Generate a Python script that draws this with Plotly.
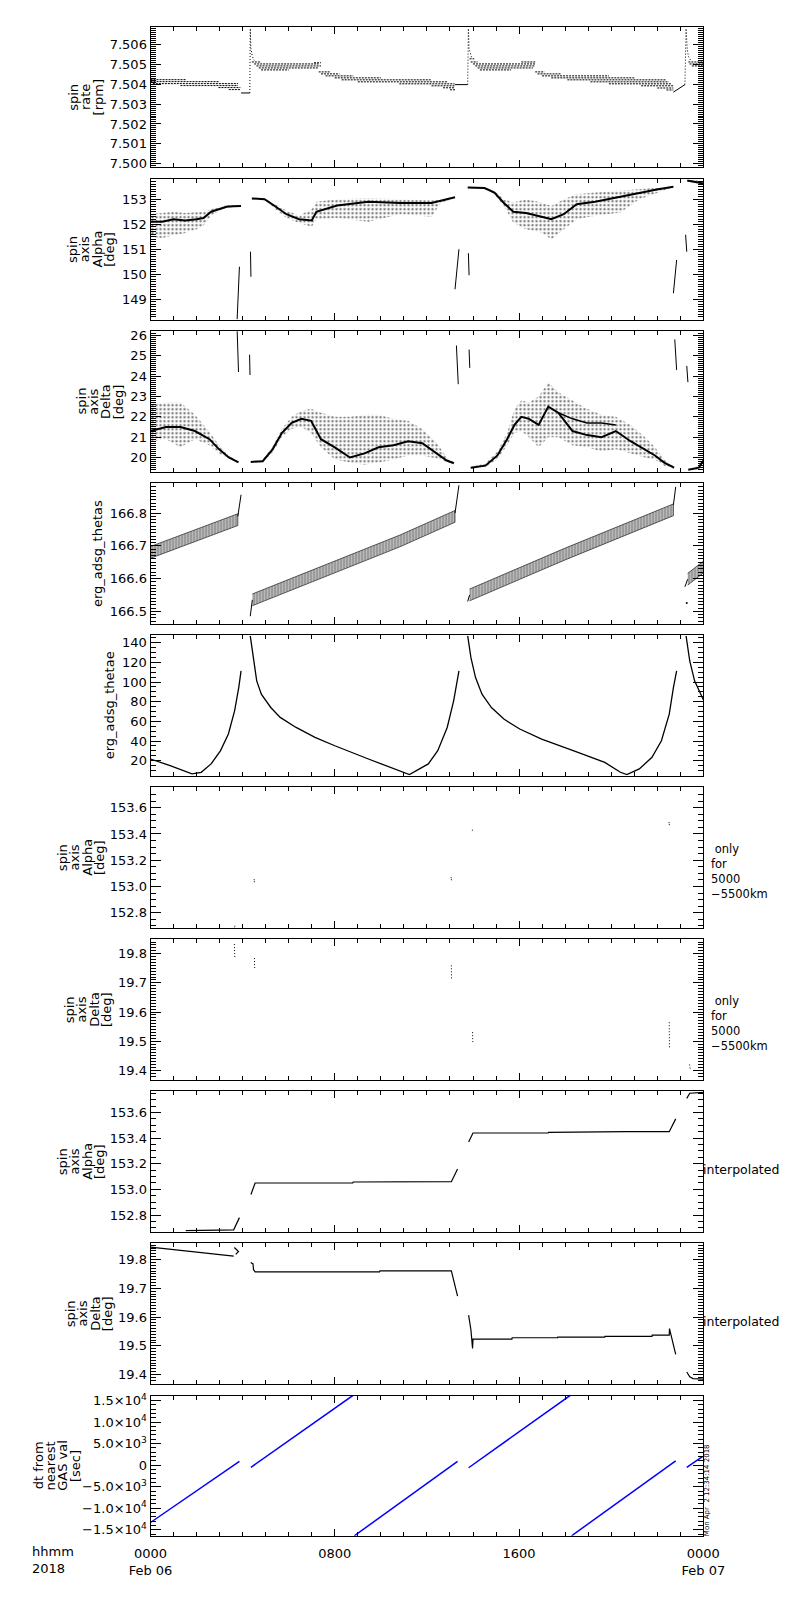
import plotly.graph_objects as go

W, H = 800, 1600
X0, X1 = 136.0, 721.0
TOP0, PITCH, PH = 23.3, 152.8, 141.0
FONT = "DejaVu Sans"

# ---------------- data (hours after 2018-02-06 00:00) ----------------
# Panel 1: spin rate [rpm] -- quantised levels (start h, end h, value)
p1_t0 = [0.0, 0.0, 0.1, 1.3, 2.95, 3.4,
         4.4, 4.5, 4.6, 4.7, 4.8, 7.1, 7.3, 7.4, 7.6, 8.0, 8.3, 9.0, 10.8, 12.2, 12.7, 13.0,
         13.85, 13.9, 14.0, 14.1, 14.2, 14.3, 16.1, 16.7, 16.8, 17.0, 17.4, 18.1, 19.1, 19.9, 21.3, 22.0, 22.4,
         23.35, 23.4, 23.5]
p1_t1 = [1.53, 3.0, 3.8, 3.8, 3.9, 3.9,
         4.8, 7.3, 7.4, 7.3, 6.0, 7.4, 7.8, 8.2, 8.8, 10.0, 12.2, 12.9, 13.2, 13.2, 13.22, 13.22,
         14.05, 14.2, 16.7, 16.7, 16.6, 15.65, 16.7, 17.1, 17.8, 19.9, 21.0, 22.4, 22.5, 22.6, 22.7, 22.7, 22.7,
         24.0, 24.0, 24.0]
p1_v = [7.50423, 7.50413, 7.50403, 7.50393, 7.50383, 7.50373,
        7.50512, 7.50502, 7.50492, 7.50482, 7.50472, 7.50508, 7.50462, 7.50452, 7.50442, 7.50432, 7.50422,
        7.50412, 7.50402, 7.50392, 7.50382, 7.50372,
        7.50528, 7.50512, 7.50502, 7.50492, 7.50482, 7.50472, 7.50512, 7.50462, 7.50452, 7.50442, 7.50432,
        7.50422, 7.50412, 7.50402, 7.50392, 7.50381, 7.50371,
        7.50512, 7.50502, 7.50492]
p1_flat_t = [3.93, 4.31, None, 13.22, 13.77, None, 22.7, 23.2]
p1_flat_v = [7.50356, 7.50356, None, 7.50398, 7.50398, None, 7.5036, 7.50398]
p1_spike_t = [4.31, 4.33, 4.33, 4.36, 4.42, 4.5, None,
              13.77, 13.79, 13.8, 13.83, 13.9, 13.95, None,
              23.2, 23.23, 23.25, 23.3, 23.35, 23.45]
p1_spike_v = [7.50356, 7.5052, 7.5068, 7.5058, 7.5054, 7.5052, None,
              7.50398, 7.5053, 7.5068, 7.5058, 7.5054, 7.50528, None,
              7.50398, 7.5052, 7.5068, 7.5058, 7.5054, 7.5052]

# Panel 2: spin axis Alpha [deg] -- scatter cloud envelopes per orbit
p2_t = [[0.0, 0.5, 1.0, 1.5, 2.0, 2.3, 2.63, 3.0, 3.3, 3.6, 3.93],
        [4.4, 4.95, 5.36, 5.9, 6.45, 7.0, 7.2, 8.1, 9.46, 10.83, 12.2, 12.6, 13.22],
        [13.77, 14.5, 14.93, 15.34, 15.75, 16.3, 16.98, 17.4, 17.94, 18.5, 19.3, 20.4, 21.22, 22.04, 22.7],
        [23.3, 23.6, 24.0]]
p2_core = [[152.1, 152.1, 152.2, 152.15, 152.2, 152.25, 152.5, 152.62, 152.7, 152.72, 152.73],
           [153.03, 153.0, 152.75, 152.4, 152.2, 152.15, 152.5, 152.75, 152.9, 152.85, 152.85, 152.95, 153.08],
           [153.47, 153.45, 153.27, 152.85, 152.5, 152.45, 152.3, 152.2, 152.4, 152.8, 152.9, 153.1, 153.27, 153.4, 153.5],
           [153.75, 153.7, 153.63]]
p2_lo = [[151.5, 151.45, 151.55, 151.65, 151.8, 151.95, 152.34, 152.55, 152.66, 152.7, 152.71],
         [153.0, 152.97, 152.65, 152.25, 152.05, 151.9, 152.2, 152.25, 152.1, 152.4, 152.3, 152.85, 153.05],
         [153.45, 153.43, 153.2, 152.73, 152.07, 151.8, 151.67, 151.4, 151.8, 152.2, 152.34, 152.47, 153.0, 153.27, 153.48],
         [153.72, 153.66, 153.58]]
p2_hi = [[152.4, 152.45, 152.5, 152.45, 152.5, 152.5, 152.6, 152.7, 152.76, 152.75, 152.75],
         [153.06, 153.04, 152.82, 152.55, 152.35, 152.6, 152.9, 153.0, 153.05, 153.0, 152.95, 153.0, 153.1],
         [153.49, 153.48, 153.33, 153.0, 152.87, 153.0, 152.87, 152.73, 153.0, 153.2, 153.27, 153.33, 153.4, 153.47, 153.52],
         [153.8, 153.78, 153.7]]
p2_seg_t0 = [3.76, 4.34, 13.22, 13.80, 22.70, 23.23]
p2_seg_t1 = [3.86, 4.36, 13.39, 13.83, 22.84, 23.28]
p2_seg_v0 = [148.2, 150.9, 149.4, 150.84, 149.24, 151.58]
p2_seg_v1 = [150.3, 149.9, 151.0, 149.96, 150.57, 150.9]

# Panel 3: spin axis Delta [deg]
p3_t = [[0.0, 0.67, 1.3, 1.93, 2.56, 2.98, 3.4, 3.82],
        [4.35, 4.87, 5.3, 5.7, 6.13, 6.55, 6.97, 7.4, 8.0, 8.66, 9.29, 9.9, 10.55, 11.18, 11.8, 12.44, 12.86, 13.17],
        [13.9, 14.54, 15.06, 15.48, 15.8, 16.1, 16.43, 16.85, 17.27, 17.7, 18.32, 18.95, 19.58, 20.2, 20.84,
         21.47, 21.9, 22.3, 22.73],
        [23.35, 23.8, 24.0]]
p3_core = [[21.3, 21.5, 21.5, 21.3, 20.9, 20.4, 20.0, 19.76],
           [19.78, 19.82, 20.4, 21.2, 21.7, 21.9, 21.8, 20.9, 20.5, 20.0, 20.2, 20.5, 20.6, 20.8, 20.7, 20.2, 19.85, 19.72],
           [19.5, 19.6, 20.1, 20.9, 21.6, 22.0, 21.9, 21.6, 22.5, 22.2, 21.3, 21.1, 21.0, 21.3, 20.8, 20.4, 20.1, 19.75, 19.5],
           [19.4, 19.5, 19.85]]
p3_lo = [[20.8, 20.9, 20.5, 20.9, 20.6, 20.2, 19.95, 19.72],
         [19.74, 19.78, 20.25, 21.0, 21.4, 21.5, 21.2, 20.5, 19.9, 19.75, 19.65, 19.75, 19.9, 20.1, 20.1, 19.95, 19.78, 19.7],
         [19.45, 19.55, 19.9, 20.6, 21.2, 21.3, 21.0, 20.5, 21.0, 21.0, 20.6, 20.5, 20.3, 20.4, 20.2, 20.0, 19.9, 19.6, 19.45],
         [19.35, 19.42, 19.6]]
p3_hi = [[22.6, 22.7, 22.7, 22.1, 21.25, 20.6, 20.1, 19.8],
         [19.82, 19.88, 20.55, 21.4, 22.0, 22.3, 22.4, 22.2, 22.0, 22.0, 22.1, 22.1, 21.9, 21.8, 21.4, 20.7, 20.0, 19.75],
         [19.55, 19.7, 20.3, 21.2, 22.4, 22.8, 22.7, 23.0, 23.7, 23.2, 22.8, 22.4, 22.1, 22.0, 21.6, 21.0, 20.5, 19.9, 19.55],
         [19.45, 19.6, 20.0]]
p3_core2_t = [17.7, 18.32, 18.95, 19.58, 20.2]
p3_core2_v = [22.2, 21.9, 21.7, 21.7, 21.6]
p3_seg_t0 = [3.76, 4.30, 13.28, 13.83, 22.76, 23.28]
p3_seg_t1 = [3.82, 4.32, 13.36, 13.86, 22.84, 23.33]
p3_seg_v0 = [26.3, 25.05, 25.5, 25.3, 25.8, 24.5]
p3_seg_v1 = [24.2, 24.05, 23.6, 24.4, 24.3, 23.7]

# Panel 4: erg_adsg_thetas -- band centre per orbit
p4_t = [[0.0, 3.79], [4.42, 10.83, 13.22], [13.85, 18.0, 22.7], [23.32, 24.0]]
p4_c = [[166.68, 166.78], [166.535, 166.715, 166.79], [166.55, 166.675, 166.81], [166.598, 166.635]]
p4_halfwidth = 0.018
p4_tail_t = [3.79, 3.93, None, 13.22, 13.39, None, 22.7, 22.8, None,
             4.33, 4.42, None, 13.77, 13.85, None, 23.2, 23.32]
p4_tail_v = [166.79, 166.856, None, 166.80, 166.885, None, 166.825, 166.88, None,
             166.485, 166.535, None, 166.53, 166.55, None, 166.575, 166.598]
p4_dot_t = [23.28]
p4_dot_v = [166.525]

# Panel 5: erg_adsg_thetae
p5_t = [0.0, 0.85, 1.8, 2.2, 2.63, 3.04, 3.38, 3.65, 3.83, 3.93, None,
        4.33, 4.47, 4.61, 4.81, 5.22, 5.63, 6.32, 7.14, 8.0, 9.46, 10.83, 11.24, 12.06, 12.47, 12.88, 13.16, 13.39, None,
        13.77, 13.91, 14.11, 14.39, 14.8, 15.34, 16.03, 16.98, 18.35, 19.72, 20.4, 20.68, 21.22, 21.77, 22.18, 22.52,
        22.7, 22.84, None,
        23.25, 23.41, 23.62, 23.96, 24.0]
p5_v = [21.7, 15.0, 6.5, 8.2, 16.7, 30.2, 47.1, 70.7, 94.4, 111.3, None,
        147.0, 121.4, 101.2, 87.7, 74.1, 64.0, 53.8, 43.7, 35.2, 21.7, 9.9, 5.8, 16.7, 30.2, 53.8, 80.9, 111.3, None,
        147.0, 124.8, 104.5, 87.7, 74.0, 62.3, 52.2, 42.0, 30.2, 18.3, 8.2, 5.8, 11.6, 23.4, 40.3, 67.4, 94.4, 111.3, None,
        147.0, 121.4, 101.2, 84.2, 82.0]

# Panel 6: Alpha only for 5000-5500 km (short marks)
p6_t0 = [3.65, 4.50, 13.05, 13.97, 22.51]
p6_t1 = [3.67, 4.51, 13.07, 13.99, 22.53]
p6_v0 = [152.688, 153.055, 153.07, 153.425, 153.49]
p6_v1 = [152.705, 153.03, 153.045, 153.44, 153.46]

# Panel 7: Delta only for 5000-5500 km
p7_t0 = [3.64, 4.51, 13.06, 13.98, 22.52, 23.40]
p7_t1 = [3.66, 4.52, 13.07, 13.99, 22.53, 23.44]
p7_v0 = [19.833, 19.785, 19.76, 19.531, 19.565, 19.42]
p7_v1 = [19.783, 19.751, 19.714, 19.497, 19.473, 19.40]

# Panel 8: Alpha interpolated
p8_t = [1.53, 3.61, 3.86, None,
        4.36, 4.54, 8.78, 8.80, 13.06, 13.33, None,
        13.81, 14.0, 17.26, 17.28, 20.68, 22.52, 22.8, None,
        23.28, 23.41, 24.0]
p8_v = [152.678, 152.685, 152.78, None,
        152.96, 153.05, 153.05, 153.058, 153.06, 153.16, None,
        153.37, 153.44, 153.44, 153.445, 153.45, 153.45, 153.55, None,
        153.71, 153.75, 153.757]

# Panel 9: Delta interpolated
p9_t = [0.0, 3.61, None, 3.64, 3.82, 3.70, None,
        4.35, 4.45, 4.47, 4.54, 9.94, 9.96, 13.06, 13.33, None,
        13.81, 13.91, 13.98, 14.0, 15.69, 15.70, 17.67, 17.68, 19.72, 19.73, 21.77, 21.78, 22.52, 22.53, 22.8, None,
        23.28, 23.41, 23.55, 24.0]
p9_v = [19.843, 19.812, None, 19.842, 19.828, 19.818, None,
        19.79, 19.785, 19.765, 19.757, 19.757, 19.761, 19.761, 19.673, None,
        19.607, 19.555, 19.491, 19.523, 19.523, 19.528, 19.528, 19.53, 19.53, 19.533, 19.533, 19.537, 19.537,
        19.56, 19.47, None,
        19.409, 19.392, 19.386, 19.384]

# Panel 10: dt from nearest GAS value [sec]
p10_t0 = [0.0, 4.36, 8.85, 13.81, 18.28, 23.28]
p10_t1 = [3.86, 8.78, 13.33, 18.21, 22.8, 23.96]
p10_v0 = [-13300, -500, -16380, -600, -16380, -500]
p10_v1 = [900, 16150, 900, 16150, 1000, 2000]

# axis settings
y_ranges = [[7.49981, 7.50687], [148.19, 153.8], [19.31, 26.2], [166.4625, 166.891], [4.8, 147.5],
            [152.686, 153.755], [19.368, 19.849], [152.67, 153.764], [19.368, 19.856], [-16385, 16154]]
y_dtick = [0.001, 1, 1, 0.1, 20, 0.2, 0.1, 0.2, 0.1, 5000]
y_tick0 = [7.5, 0, 0, 166.5, 0, 152.8, 19.4, 152.8, 19.4, 0]
y_minor = [0.0001, 0.1, 0.1, 0.01, 5, 0.05, 0.01, 0.05, 0.01, 1000]
y_fmt = [".3f", "d", "d", ".1f", "d", ".1f", ".1f", ".1f", ".1f", None]
p10_tickvals = [-15000, -10000, -5000, 0, 5000, 10000, 15000]
p10_ticktext = ["\u22121.5\u00d710<sup>4</sup>", "\u22121.0\u00d710<sup>4</sup>", "\u22125.0\u00d710<sup>3</sup>", "0",
                "5.0\u00d710<sup>3</sup>", "1.0\u00d710<sup>4</sup>", "1.5\u00d710<sup>4</sup>"]
x_tickvals = [0, 8, 16, 24]
x_ticktext = ["0000<br>Feb 06", "0800", "1600", "0000<br>Feb 07"]

titles = [["spin", "rate", "[rpm]"],
          ["spin", "axis", "Alpha", "[deg]"],
          ["spin", "axis", "Delta", "[deg]"],
          ["erg_adsg_thetas"],
          ["erg_adsg_thetae"],
          ["spin", "axis", "Alpha", "[deg]"],
          ["spin", "axis", "Delta", "[deg]"],
          ["spin", "axis", "Alpha", "[deg]"],
          ["spin", "axis", "Delta", "[deg]"],
          ["dt from", "nearest", "GAS val", "[sec]"]]
title_cx = [67.5, 73, 82, 80, 93, 62.5, 70, 62.5, 71, 37]
right_only = "\u00a0only<br>for<br>5000<br>\u22125500km"
right_interp = "interpolated"
stamp = "Mon Apr  2 12:34:14 2018"

# ---------------- figure ----------------
fig = go.Figure()


def refs(i):
    return ("x" if i == 0 else f"x{i+1}"), ("y" if i == 0 else f"y{i+1}")


def add(i, **kw):
    xr, yr = refs(i)
    kw.setdefault("mode", "lines")
    kw.setdefault("showlegend", False)
    kw.setdefault("hoverinfo", "skip")
    fig.add_trace(go.Scatter(xaxis=xr, yaxis=yr, **kw))


def seg_xy(t0, t1, v0, v1):
    xs, ys = [], []
    for a, b, c, d in zip(t0, t1, v0, v1):
        xs += [a, b, None]
        ys += [c, d, None]
    return xs, ys


BLK = "black"
# panel 1
xs, ys = seg_xy(p1_t0, p1_t1, p1_v, p1_v)
add(0, x=xs, y=ys, line=dict(color=BLK, width=1, dash="2px,1px"))
add(0, x=p1_flat_t, y=p1_flat_v, line=dict(color=BLK, width=1))
add(0, x=p1_spike_t, y=p1_spike_v, line=dict(color=BLK, width=1, dash="1px,2px"))


def cloud(i, t, lo, hi, core, size=4, sol=0.3, corew=2.0):
    for tt, l, h, c in zip(t, lo, hi, core):
        add(i, x=tt + tt[::-1], y=h + l[::-1], fill="toself", fillcolor="white",
            fillpattern=dict(shape=".", size=size, solidity=sol, fgcolor=BLK, bgcolor="rgba(0,0,0,0)"),
            line=dict(width=0))
        add(i, x=tt, y=c, line=dict(color=BLK, width=corew))


cloud(1, p2_t, p2_lo, p2_hi, p2_core)
xs, ys = seg_xy(p2_seg_t0, p2_seg_t1, p2_seg_v0, p2_seg_v1)
add(1, x=xs, y=ys, line=dict(color=BLK, width=1))

cloud(2, p3_t, p3_lo, p3_hi, p3_core)
add(2, x=p3_core2_t, y=p3_core2_v, line=dict(color=BLK, width=1.5))
xs, ys = seg_xy(p3_seg_t0, p3_seg_t1, p3_seg_v0, p3_seg_v1)
add(2, x=xs, y=ys, line=dict(color=BLK, width=1))

# panel 4 hatched bands
for tt, cc in zip(p4_t, p4_c):
    hi = [c + p4_halfwidth for c in cc]
    lo = [c - p4_halfwidth for c in cc]
    add(3, x=tt + tt[::-1], y=hi + lo[::-1], fill="toself", fillcolor="white",
        fillpattern=dict(shape="|", size=3, solidity=0.7, fgcolor=BLK, bgcolor="rgba(0,0,0,0)"),
        line=dict(color=BLK, width=0.6))
add(3, x=p4_tail_t, y=p4_tail_v, line=dict(color=BLK, width=1))
add(3, x=p4_dot_t, y=p4_dot_v, mode="markers", marker=dict(color=BLK, size=2))

# panel 5
add(4, x=p5_t, y=p5_v, line=dict(color=BLK, width=1.3))

# panels 6, 7
xs, ys = seg_xy(p6_t0, p6_t1, p6_v0, p6_v1)
add(5, x=xs, y=ys, line=dict(color=BLK, width=1, dash="1px,1px"))
xs, ys = seg_xy(p7_t0, p7_t1, p7_v0, p7_v1)
add(6, x=xs, y=ys, line=dict(color=BLK, width=1, dash="1px,2px"))

# panels 8, 9
add(7, x=p8_t, y=p8_v, line=dict(color=BLK, width=1.2))
add(8, x=p9_t, y=p9_v, line=dict(color=BLK, width=1.2))

# panel 10
xs, ys = seg_xy(p10_t0, p10_t1, p10_v0, p10_v1)
add(9, x=xs, y=ys, line=dict(color="#0000ff", width=1.5))

# ---------------- layout ----------------
layout = dict(width=W, height=H, margin=dict(l=0, r=0, t=0, b=0),
              paper_bgcolor="white", plot_bgcolor="white",
              font=dict(family=FONT, size=13, color=BLK), showlegend=False)

anns = []


def ann(text, xpx, ypx, angle=0, xanchor="center", yanchor="middle", size=13):
    anns.append(dict(text=text, x=xpx / W, y=1 - ypx / H, xref="paper", yref="paper",
                     xanchor=xanchor, yanchor=yanchor, showarrow=False, textangle=angle,
                     font=dict(family=FONT, size=size, color=BLK), align="left"))


for i in range(10):
    top = TOP0 + PITCH * i
    bot = top + PH
    xk = "xaxis" if i == 0 else f"xaxis{i+1}"
    yk = "yaxis" if i == 0 else f"yaxis{i+1}"
    xr, yr = refs(i)
    last = i == 9
    layout[xk] = dict(domain=[X0 / W, X1 / W], anchor=yr, range=[0, 24],
                      tickmode="array", tickvals=x_tickvals, ticktext=x_ticktext,
                      showticklabels=last, ticks="inside", ticklen=7, tickcolor=BLK,
                      minor=dict(dtick=1, tick0=0, ticks="inside", ticklen=4, tickcolor=BLK),
                      showline=True, linecolor=BLK, linewidth=1, mirror="ticks",
                      showgrid=False, zeroline=False, tickfont=dict(size=13),
                      ticklabelstandoff=6)
    yd = dict(domain=[1 - bot / H, 1 - top / H], anchor=xr, range=y_ranges[i],
              ticks="inside", ticklen=10, tickcolor=BLK,
              minor=dict(dtick=y_minor[i], tick0=y_tick0[i], ticks="inside", ticklen=5.5, tickcolor=BLK),
              showline=True, linecolor=BLK, linewidth=1, mirror="ticks",
              showgrid=False, zeroline=False, tickfont=dict(size=13))
    if i == 9:
        yd.update(tickmode="array", tickvals=p10_tickvals, ticktext=p10_ticktext)
    else:
        yd.update(tickmode="linear", dtick=y_dtick[i], tick0=y_tick0[i], tickformat=y_fmt[i])
    layout[yk] = yd

    # y titles (rotated), one annotation per line
    lines = titles[i]
    n = len(lines)
    cy = (top + bot) / 2
    for k, s in enumerate(lines):
        ann(s, title_cx[i] + (k - (n - 1) / 2) * 13, cy, angle=-90)
    # right-hand labels
    if i in (5, 6):
        ann(right_only, 727, cy + 14, xanchor="left", size=11.5)
    if i in (7, 8):
        ann(right_interp, 719, cy + 8, xanchor="left", size=12.5)

ann("hhmm<br>2018", 8, 1546, xanchor="left", yanchor="top")
ann(stamp, 725, (1449 + 1538) / 2, angle=-90, size=7)

layout["annotations"] = anns
fig.update_layout(**layout)
fig.write_html("out.html", config={"displayModeBar": False},
               post_script="document.body.style.margin='0';")
